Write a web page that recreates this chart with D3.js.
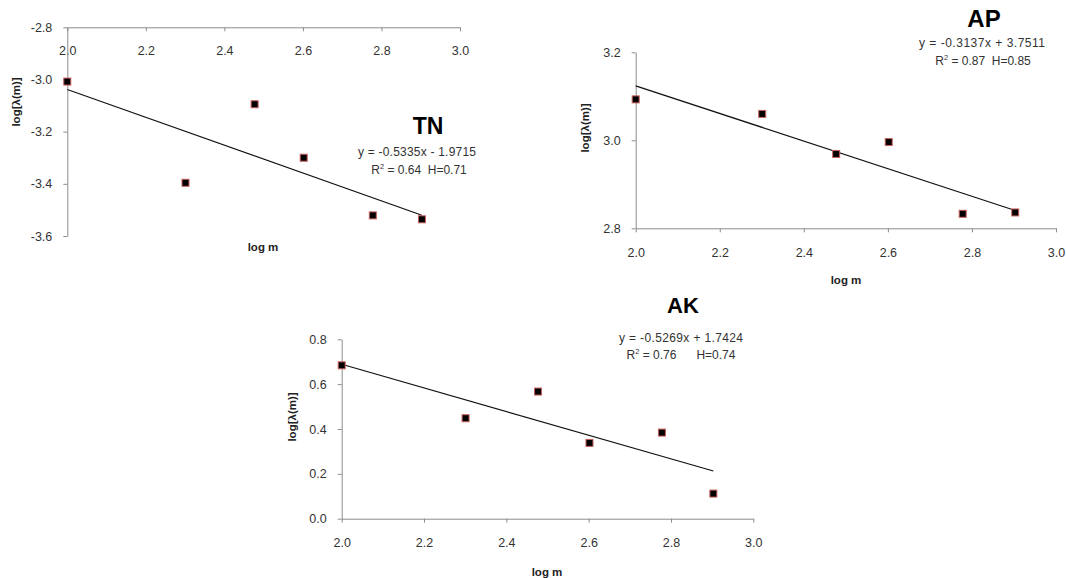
<!DOCTYPE html>
<html>
<head>
<meta charset="utf-8">
<script src="https://cdn.jsdelivr.net/npm/d3@7"></script>
<style>
  html, body { margin: 0; padding: 0; background: #fff; }
  svg { display: block; font-family: "Liberation Sans", Arial, sans-serif; }
  text { white-space: pre; }
</style>
</head>
<body>
<svg id="chart" width="1066" height="578"></svg>
<script>
// ---- data ----
const logM = [2.0, 2.301, 2.477, 2.602, 2.778, 2.903];
const tnValues = [-3.008, -3.396, -3.095, -3.300, -3.521, -3.536];
const apValues = [3.093, 3.060, 2.969, 2.996, 2.833, 2.836];
const akValues = [0.684, 0.448, 0.567, 0.338, 0.384, 0.112];
const tnTrend = [-0.5335, -1.9715];   // slope, intercept
const apTrend = [-0.3137, 3.7511];
const akTrend = [-0.5269, 1.7424];
const xTicks = [2.0, 2.2, 2.4, 2.6, 2.8, 3.0];
const tnYTicks = [-3.6, -3.4, -3.2, -3.0, -2.8];
const apYTicks = [2.8, 3.0, 3.2];
const akYTicks = [0.0, 0.2, 0.4, 0.6, 0.8];
const panelNames = ["TN", "AP", "AK"];
const tnEquation = ["y = -0.5335x - 1.9715", "0.64", "0.71"];
const apEquation = ["y = -0.3137x + 3.7511", "0.87", "0.85"];
const akEquation = ["y = -0.5269x + 1.7424", "0.76", "0.74"];
const xTitle = "log m";
const yTitle = "log[λ(m)]";

const svg = d3.select("#chart");
const axisColor = "#8c8c8c";
const textColor = "#333";

function panel(cfg) {
  const g = svg.append("g");
  const x = d3.scaleLinear().domain([2, 3]).range(cfg.xr);
  const y = d3.scaleLinear().domain(cfg.yd).range(cfg.yr);
  const axisY = y(cfg.xAxisAt);

  // x axis
  const xa = g.append("g").attr("transform", `translate(0,${axisY})`)
    .call(d3.axisBottom(x).tickValues(xTicks).tickSizeInner(4).tickSizeOuter(0)
      .tickPadding(cfg.xPad).tickFormat(d => d.toFixed(1)));
  // y axis
  const ya = g.append("g").attr("transform", `translate(${cfg.xr[0]},0)`)
    .call(d3.axisLeft(y).tickValues(cfg.yTicks).tickSizeInner(4).tickSizeOuter(0)
      .tickPadding(11).tickFormat(d => d.toFixed(1)));
  [xa, ya].forEach(a => {
    a.selectAll("path.domain").attr("stroke", axisColor).attr("stroke-width", 1);
    a.selectAll(".tick line").attr("stroke", axisColor).attr("stroke-width", 1);
    a.selectAll(".tick text").attr("fill", textColor)
      .style("font-size", "12.5px").style("font-family", '"Liberation Sans", Arial, sans-serif');
  });

  // trend line
  const xs = [logM[0], logM[logM.length - 1]];
  g.append("path")
    .datum(xs.map(v => [v, cfg.trend[0] * v + cfg.trend[1]]))
    .attr("d", d3.line().x(d => x(d[0])).y(d => y(d[1])))
    .attr("fill", "none").attr("stroke", "#111").attr("stroke-width", 1.2);

  // markers
  g.selectAll("rect.pt").data(logM.map((v, i) => [v, cfg.values[i]])).join("rect")
    .attr("class", "pt")
    .attr("x", d => x(d[0]) - 3.5).attr("y", d => y(d[1]) - 3.5)
    .attr("width", 7).attr("height", 7)
    .attr("fill", "#000").attr("stroke", "#c9605e").attr("stroke-width", 1);

  // axis titles
  g.append("text").attr("x", cfg.xTitlePos[0]).attr("y", cfg.xTitlePos[1])
    .attr("text-anchor", "middle").attr("font-weight", "bold").attr("font-size", 11.5)
    .attr("fill", "#222").text(xTitle);
  g.append("text")
    .attr("transform", `translate(${cfg.yTitlePos[0]},${cfg.yTitlePos[1]}) rotate(-90)`)
    .attr("text-anchor", "middle").attr("font-weight", "bold").attr("font-size", 11.5)
    .attr("fill", "#222").text(yTitle);

  // panel name
  g.append("text").attr("x", cfg.titlePos[0]).attr("y", cfg.titlePos[1])
    .attr("text-anchor", "middle").attr("font-weight", "bold").attr("font-size", cfg.titleSize)
    .attr("fill", "#000").text(cfg.name);

  // equation
  g.append("text").attr("x", cfg.eqPos[0]).attr("y", cfg.eqPos[1])
    .attr("text-anchor", "middle").attr("font-size", 12).attr("fill", textColor)
    .attr("textLength", cfg.eqW).attr("lengthAdjust", "spacing")
    .text(cfg.eq[0]);
  const r = g.append("text").attr("x", cfg.rPos[0]).attr("y", cfg.rPos[1])
    .attr("text-anchor", "middle").attr("font-size", 12).attr("fill", textColor);
  r.append("tspan").text("R");
  r.append("tspan").attr("font-size", 7.5).attr("dy", -4.5).text("2");
  r.append("tspan").attr("dy", 4.5).text(" = " + cfg.eq[1] + cfg.gap + "H=" + cfg.eq[2]);
}

panel({
  name: panelNames[0], values: tnValues, trend: tnTrend, eq: tnEquation,
  xr: [67.3, 460], yd: [-3.6, -2.8], yr: [236, 27.3], xAxisAt: -2.8, yTicks: tnYTicks,
  xPad: 14.5, xTitlePos: [263, 251], yTitlePos: [20, 102],
  titlePos: [428, 134], titleSize: 23,
  eqPos: [417, 156], eqW: 118, rPos: [419, 173.5], gap: "  "
});
panel({
  name: panelNames[1], values: apValues, trend: apTrend, eq: apEquation,
  xr: [635.7, 1056], yd: [2.8, 3.2], yr: [228.3, 52.3], xAxisAt: 2.8, yTicks: apYTicks,
  xPad: 16, xTitlePos: [846, 284], yTitlePos: [589, 128],
  titlePos: [984, 27], titleSize: 24,
  eqPos: [982, 47], eqW: 126, rPos: [983, 64.5], gap: "  "
});
panel({
  name: panelNames[2], values: akValues, trend: akTrend, eq: akEquation,
  xr: [341.7, 753.3], yd: [0, 0.8], yr: [518.7, 339.3], xAxisAt: 0, yTicks: akYTicks,
  xPad: 15.5, xTitlePos: [547, 576], yTitlePos: [296, 417],
  titlePos: [683, 313], titleSize: 22,
  eqPos: [681, 341.5], eqW: 124, rPos: [681, 358.5], gap: "      "
});
</script>
</body>
</html>
